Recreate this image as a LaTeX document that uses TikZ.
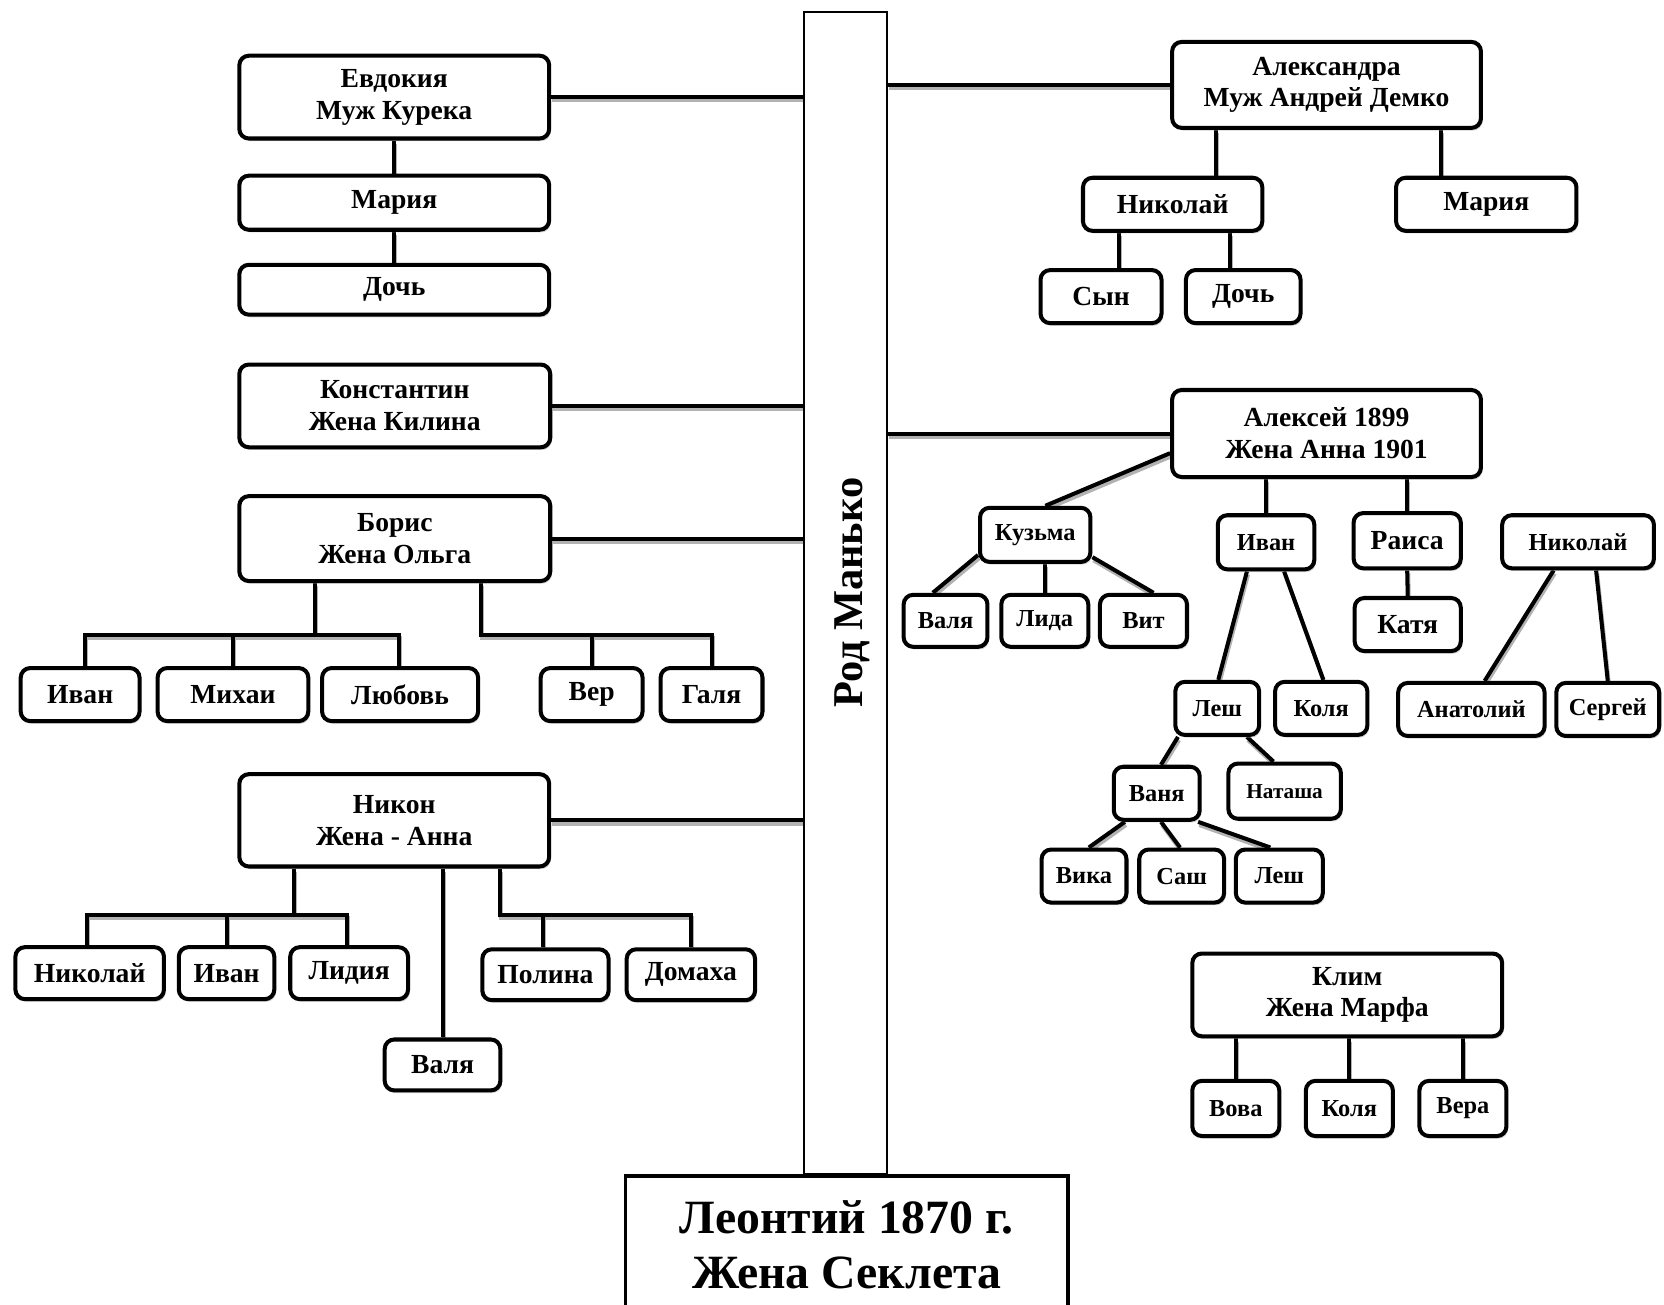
\documentclass[tikz,border=0pt]{standalone}
\usepackage{fontspec}
\setmainfont{Liberation Serif}
\usetikzlibrary{positioning,shadows,backgrounds}

\tikzset{
  person/.style={draw, fill=white, line width=3.8pt, rounded corners=9pt, align=center, inner sep=0pt,
    font=\fontsize{26}{30}\selectfont\bfseries,
    drop shadow={shadow xshift=1.5pt, shadow yshift=-2.5pt, fill=black!35}},
  small/.style={font=\fontsize{23}{27}\selectfont\bfseries},
  wh/.style 2 args={minimum width=#1pt, minimum height=#2pt},
  link/.style={line width=3.8pt,
    preaction={draw=black!30, line width=3.8pt, transform canvas={xshift=1pt, yshift=-3pt}}},
}

\begin{document}
\begin{tikzpicture}[x=1pt, y=-1pt]
  \useasboundingbox (0,0) rectangle (1568,1229);

  % trunk and root
  \node[draw, line width=2pt, wh={78}{1095}, inner sep=0pt, font=\fontsize{40}{48}\selectfont\bfseries] (trunk) at (797,558.5) {\hspace*{12pt}\rotatebox{90}{Род Манько}};
  \node[draw, fill=white, line width=3.5pt, wh={417}{130}, align=center, font=\fontsize{45}{51}\selectfont\bfseries] (leon) at (798,1173) {Леонтий 1870 г.\\Жена Секлета};

  % left side
  \node[person, wh={292}{78}] (evd)    at (371.5,91.5)  {Евдокия\\Муж Курека};
  \node[person, wh={292}{51}] (mar)    at (371.5,191)   {Мария};
  \node[person, wh={292}{47}] (doch)   at (371.5,273)   {Дочь};
  \node[person, wh={293}{78}] (kon)    at (372,382.5)   {Константин\\Жена Килина};
  \node[person, wh={293}{80}] (bor)    at (372,507.5)   {Борис\\Жена Ольга};
  \node[person, wh={112}{50}] (ivan1)  at (75.5,654.5)  {Иван};
  \node[person, wh={142}{50}] (mih)    at (219.5,654.5) {Михаи};
  \node[person, wh={147}{50}] (lub)    at (377,654.5)   {Любовь};
  \node[person, wh={96}{50}]  (ver)    at (557.5,654.5) {Вер};
  \node[person, wh={96}{50}]  (gal)    at (670.5,654.5) {Галя};
  \node[person, wh={292}{87}] (nik)    at (371.5,773)   {Никон\\Жена - Анна};
  \node[person, wh={140}{49}] (nkl)    at (84.5,917)    {Николай};
  \node[person, wh={90}{49}]  (ivan2)  at (213.5,917)   {Иван};
  \node[person, wh={111}{49}] (lid)    at (329,917)     {Лидия};
  \node[person, wh={109}{48}] (valya1) at (417,1003.5)  {Валя};
  \node[person, wh={119}{48}] (pol)    at (514,918.5)   {Полина};
  \node[person, wh={121}{48}] (dom)    at (651,918.5)   {Домаха};

  % right side
  \node[person, wh={291}{81}] (alx)    at (1250,80)      {Александра\\Муж Андрей Демко};
  \node[person, wh={169}{50}] (nik2)   at (1105,192.5)   {Николай};
  \node[person, wh={170}{50}] (mar2)   at (1400.5,192.5) {Мария};
  \node[person, wh={114}{50}] (syn)    at (1037.5,279.5) {Сын};
  \node[person, wh={108}{50}] (doch2)  at (1171.5,279.5) {Дочь};
  \node[person, wh={291}{82}] (alk)    at (1250,408.5)   {Алексей 1899\\Жена Анна 1901};
  \node[person, small, wh={104}{51}] (kuz)   at (975.5,504)    {Кузьма};
  \node[person, small, wh={79}{49}]  (val2)  at (891,585)      {Валя};
  \node[person, small, wh={82}{49}]  (lida)  at (984.5,585)    {Лида};
  \node[person, small, wh={82}{49}]  (vit)   at (1077.5,585)   {Вит};
  \node[person, small, wh={91}{51}]  (ivan3) at (1193,511)     {Иван};
  \node[person, wh={101}{52}]        (rai)   at (1326,509.5)   {Раиса};
  \node[person, wh={100}{50}]        (katya) at (1326.5,588.5) {Катя};
  \node[person, small, wh={143}{50}] (nik3)  at (1487,510.5)   {Николай};
  \node[person, small, wh={138}{50}] (anat)  at (1386.5,668.5) {Анатолий};
  \node[person, small, wh={97}{50}]  (serg)  at (1515,668.5)   {Сергей};
  \node[person, small, wh={79}{50}]  (lesh)  at (1147,667.5)   {Леш};
  \node[person, small, wh={87}{50}]  (kol)   at (1245,667.5)   {Коля};
  \node[person, small, wh={81}{50}]  (van)   at (1090,747.5)   {Ваня};
  \node[person, small, wh={106}{52}, font=\fontsize{20}{24}\selectfont\bfseries] (nat) at (1210.5,745.5) {Наташа};
  \node[person, small, wh={80}{50}]  (vik)   at (1021.5,825.5) {Вика};
  \node[person, small, wh={80}{50}]  (sash)  at (1113.5,825.5) {Саш};
  \node[person, small, wh={82}{50}]  (lesh2) at (1205.5,825.5) {Леш};
  \node[person, wh={292}{78}]        (klim)  at (1269.5,937.5) {Клим\\Жена Марфа};
  \node[person, small, wh={82}{52}]  (vova)  at (1164.5,1044.5) {Вова};
  \node[person, small, wh={82}{52}]  (kol2)  at (1271.5,1044.5) {Коля};
  \node[person, small, wh={82}{52}]  (vera)  at (1378.5,1044.5) {Вера};

  \coordinate (bbar)  at (297,598);
  \coordinate (bbar2) at (557,598);
  \coordinate (nbar)  at (277,862);
  \coordinate (nbar2) at (512,862);

  \begin{scope}[on background layer]
    % to the trunk
    \draw[link] (evd.east) -- (evd.east -| trunk.west);
    \draw[link] (kon.east) -- (kon.east -| trunk.west);
    \draw[link] (bor.east) -- (bor.east -| trunk.west);
    \draw[link] (nik.east) -- (nik.east -| trunk.west);
    \draw[link] (alx.west) -- (alx.west -| trunk.east);
    \draw[link] (alk.west) -- (alk.west -| trunk.east);

    % left families
    \draw[link] (evd.south) -- (mar.north);
    \draw[link] (mar.south) -- (doch.north);
    \draw[link] (bor.south -| bbar) -- (bbar);
    \draw[link] (ivan1.north -| 80,0) |- (bbar) -| (lub.north -| 376,0);
    \draw[link] (mih.north) -- (mih.north |- bbar);
    \draw[link] (bor.south -| 453,0) |- (bbar2) -| (gal.north);
    \draw[link] (ver.north) -- (ver.north |- bbar2);
    \draw[link] (nik.south -| nbar) -- (nbar);
    \draw[link] (nkl.north -| 82,0) |- (nbar) -| (lid.north -| 327,0);
    \draw[link] (ivan2.north) -- (ivan2.north |- nbar);
    \draw[link] (nik.south -| valya1.north) -- (valya1.north);
    \draw[link] (nik.south -| 471,0) |- (nbar2) -| (dom.north);
    \draw[link] (pol.north -| nbar2) -- (nbar2);

    % right families
    \draw[link] (alx.south -| 1146,0) -- (nik2.north -| 1146,0);
    \draw[link] (alx.south -| 1358,0) -- (mar2.north -| 1358,0);
    \draw[link] (nik2.south -| 1054,0) -- (syn.north -| 1054,0);
    \draw[link] (nik2.south -| 1159,0) -- (doch2.north -| 1159,0);
    \draw[link] (alk.west |- 0,427) -- (kuz.north -| 985,0);
    \draw[link] (kuz.west |- 0,523) -- (val2.north -| 879,0);
    \draw[link] (kuz.south -| 985,0) -- (lida.north -| 985,0);
    \draw[link] (kuz.east |- 0,525) -- (vit.north -| 1087,0);
    \draw[link] (alk.south -| ivan3.north) -- (ivan3.north);
    \draw[link] (alk.south -| rai.north) -- (rai.north);
    \draw[link] (rai.south) -- (katya.north);
    \draw[link] (ivan3.south -| 1175,0) -- (lesh.north -| 1148,0);
    \draw[link] (ivan3.south -| 1210,0) -- (kol.north -| 1247,0);
    \draw[link] (nik3.south -| 1464,0) -- (anat.north -| 1399,0);
    \draw[link] (nik3.south -| 1504,0) -- (serg.north -| 1515,0);
    \draw[link] (lesh.south -| 1110,0) -- (van.north -| 1094,0);
    \draw[link] (lesh.south -| 1175,0) -- (nat.north -| 1200,0);
    \draw[link] (van.south -| 1060,0) -- (vik.north -| 1026,0);
    \draw[link] (van.south -| 1094,0) -- (sash.north -| 1112,0);
    \draw[link] (van.south -| 1129,0) -- (lesh2.north -| 1197,0);
    \draw[link] (klim.south -| vova.north) -- (vova.north);
    \draw[link] (klim.south -| kol2.north) -- (kol2.north);
    \draw[link] (klim.south -| vera.north) -- (vera.north);
  \end{scope}
\end{tikzpicture}
\end{document}
